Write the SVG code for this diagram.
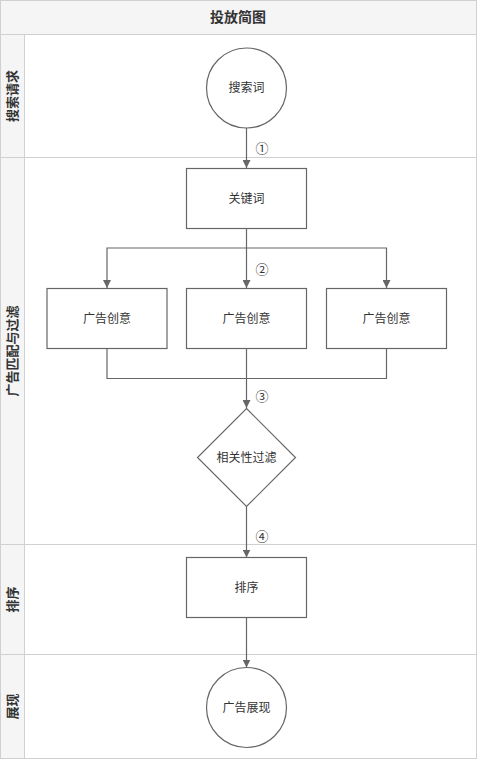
<svg xmlns="http://www.w3.org/2000/svg" width="477" height="759" viewBox="0 0 477 759">
<defs>
<style>
.lane{fill:#ffffff;stroke:#d0d0d0;stroke-width:1}
.hdr{fill:#f5f5f5;stroke:#d0d0d0;stroke-width:1}
.node{fill:#ffffff;stroke:#666666;stroke-width:1.2}
.edge{fill:none;stroke:#666666;stroke-width:1.2}
.t{font-family:"Liberation Sans","Noto Sans CJK SC",sans-serif;font-size:12px;fill:#333333;text-anchor:middle;dominant-baseline:central}
.lt{font-family:"Liberation Sans","Noto Sans CJK SC",sans-serif;font-size:13px;font-weight:bold;fill:#333333;text-anchor:middle;dominant-baseline:central}
.num{font-family:"Noto Sans CJK SC","DejaVu Sans",sans-serif;font-size:13px;fill:#333333;text-anchor:middle;dominant-baseline:central}
</style>
<marker id="arr" viewBox="0 0 10 10" refX="10" refY="5" markerWidth="8" markerHeight="8" markerUnits="userSpaceOnUse" orient="auto">
<path d="M0,0 L10,5 L0,10 Z" fill="#666666"/>
</marker>
</defs>
<g id="pool">
<rect class="hdr" x="0.5" y="0.5" width="476" height="34"/>
<text class="lt" x="238" y="17" style="font-size:14px">投放简图</text>
</g>
<g id="lane-search">
<rect class="lane" x="0.5" y="34.5" width="476" height="123"/>
<rect class="hdr" x="0.5" y="34.5" width="24" height="123"/>
<text class="lt" transform="translate(12.5,96) rotate(-90)">搜索请求</text>
</g>
<g id="lane-match">
<rect class="lane" x="0.5" y="157.5" width="476" height="387"/>
<rect class="hdr" x="0.5" y="157.5" width="24" height="387"/>
<text class="lt" transform="translate(12.5,351) rotate(-90)">广告匹配与过滤</text>
</g>
<g id="lane-sort">
<rect class="lane" x="0.5" y="544.5" width="476" height="110"/>
<rect class="hdr" x="0.5" y="544.5" width="24" height="110"/>
<text class="lt" transform="translate(12.5,599.5) rotate(-90)">排序</text>
</g>
<g id="lane-show">
<rect class="lane" x="0.5" y="654.5" width="476" height="104"/>
<rect class="hdr" x="0.5" y="654.5" width="24" height="104"/>
<text class="lt" transform="translate(12.5,706.5) rotate(-90)">展现</text>
</g>
<g id="connectors">
<path class="edge" d="M246.5,128 L246.5,168" marker-end="url(#arr)"/>
<path class="edge" d="M246.5,228.5 L246.5,288" marker-end="url(#arr)"/>
<path class="edge" d="M246.5,248 L107,248 L107,288" marker-end="url(#arr)"/>
<path class="edge" d="M246.5,248 L386.5,248 L386.5,288" marker-end="url(#arr)"/>
<path class="edge" d="M107,348.5 L107,378.5 L386.5,378.5 L386.5,348.5"/>
<path class="edge" d="M246.5,348.5 L246.5,408" marker-end="url(#arr)"/>
<path class="edge" d="M246.5,506.5 L246.5,557.5" marker-end="url(#arr)"/>
<path class="edge" d="M246.5,617.5 L246.5,667.5" marker-end="url(#arr)"/>
<text class="num" x="262" y="147">①</text>
<text class="num" x="262" y="268">②</text>
<text class="num" x="262" y="395">③</text>
<text class="num" x="262" y="535">④</text>
</g>
<g id="n-search">
<circle class="node" cx="246.5" cy="88" r="40"/>
<text class="t" x="246.5" y="88">搜索词</text>
</g>
<g id="n-keyword">
<rect class="node" x="186.5" y="168.5" width="120" height="60"/>
<text class="t" x="246.5" y="198.5">关键词</text>
</g>
<g id="n-creative1">
<rect class="node" x="47" y="288.5" width="120" height="60"/>
<text class="t" x="107" y="318.5">广告创意</text>
</g>
<g id="n-creative2">
<rect class="node" x="186.5" y="288.5" width="120" height="60"/>
<text class="t" x="246.5" y="318.5">广告创意</text>
</g>
<g id="n-creative3">
<rect class="node" x="326.5" y="288.5" width="120" height="60"/>
<text class="t" x="386.5" y="318.5">广告创意</text>
</g>
<g id="n-filter">
<path class="node" d="M246.5,408.5 L295.5,457.5 L246.5,506.5 L197.5,457.5 Z"/>
<text class="t" x="246.5" y="457.5">相关性过滤</text>
</g>
<g id="n-sort">
<rect class="node" x="186.5" y="557.5" width="120" height="60"/>
<text class="t" x="246.5" y="587.5">排序</text>
</g>
<g id="n-show">
<circle class="node" cx="246.5" cy="707.5" r="40"/>
<text class="t" x="246.5" y="707.5">广告展现</text>
</g>
</svg>
